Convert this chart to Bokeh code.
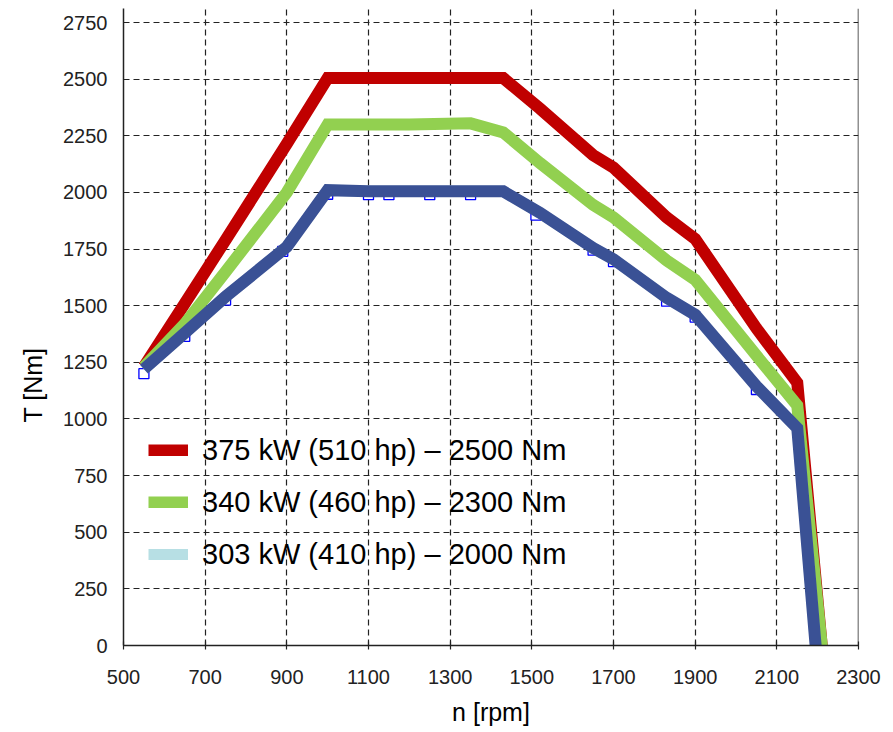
from bokeh.plotting import figure
from bokeh.models import (Range1d, FixedTicker, Span, Legend, LegendItem, Title)
from bokeh.embed import file_html
from bokeh.resources import INLINE

# ---------------- data ----------------
x_ticks = [500, 700, 900, 1100, 1300, 1500, 1700, 1900, 2100, 2300]
y_ticks = [0, 250, 500, 750, 1000, 1250, 1500, 1750, 2000, 2250, 2500, 2750]

rpm_red = [550, 650, 750, 900, 1000, 1100, 1200, 1300, 1430, 1520, 1650, 1700, 1830, 1900, 2050, 2150, 2210]
torque_red = [1230, 1510, 1790, 2215, 2505, 2505, 2505, 2505, 2505, 2370, 2165, 2110, 1890, 1795, 1400, 1160, 0]

rpm_green = [550, 650, 750, 900, 1000, 1100, 1200, 1350, 1430, 1520, 1650, 1700, 1830, 1900, 2050, 2150, 2210]
torque_green = [1230, 1420, 1650, 2000, 2300, 2300, 2300, 2305, 2265, 2130, 1945, 1890, 1700, 1615, 1280, 1060, 0]

rpm_blue = [550, 650, 750, 900, 1000, 1100, 1200, 1300, 1430, 1520, 1650, 1700, 1830, 1900, 2050, 2150, 2195]
torque_blue = [1220, 1380, 1540, 1760, 2010, 2005, 2005, 2005, 2005, 1910, 1755, 1705, 1535, 1460, 1145, 960, 0]

marker_rpm_blue = [550, 650, 750, 890, 1000, 1100, 1150, 1250, 1350, 1510, 1650, 1700, 1830, 1900, 2050, 2200]
marker_torque_blue = [1200, 1365, 1525, 1740, 1992, 1990, 1990, 1990, 1990, 1900, 1745, 1695, 1520, 1450, 1130, 0]

labels = ["375 kW (510 hp) \u2013 2500 Nm",
          "340 kW (460 hp) \u2013 2300 Nm",
          "303 kW (410 hp) \u2013 2000 Nm"]
x_title = "n [rpm]"
y_title = "T [Nm]"

RED = "#c00000"
GREEN = "#92d050"
BLUE = "#3a5195"
LEG_BLUE = "#b7dfe4"
INK = "#222222"
FONT = "Liberation Sans"

# ---------------- figure ----------------
p = figure(width=890, height=732, output_backend="svg", toolbar_location=None,
           x_range=Range1d(500, 2300), y_range=Range1d(0, 2812),
           min_border_left=123, min_border_right=32, min_border_top=8, min_border_bottom=87)
p.outline_line_color = None
p.background_fill_color = "white"

for ax in (p.xaxis[0], p.yaxis[0]):
    ax.axis_line_color = INK
    ax.axis_line_width = 1.5
    ax.major_tick_line_color = INK
    ax.major_tick_line_width = 1.2
    ax.minor_tick_line_color = None
    ax.major_label_text_font = FONT
    ax.major_label_text_font_size = "20px"
    ax.major_label_text_color = INK

p.xaxis.ticker = FixedTicker(ticks=x_ticks)
p.yaxis.ticker = FixedTicker(ticks=y_ticks)
p.xaxis.major_tick_out = 4
p.xaxis.major_tick_in = 4
p.xaxis.major_label_standoff = 20
p.yaxis.major_tick_out = 0
p.yaxis.major_tick_in = 5
p.yaxis.major_label_standoff = 16

p.xaxis.axis_label = x_title
p.xaxis.axis_label_text_font = FONT
p.xaxis.axis_label_text_font_size = "25px"
p.xaxis.axis_label_text_font_style = "normal"
p.xaxis.axis_label_text_color = "black"
p.xaxis.axis_label_standoff = 11

p.add_layout(Title(text=y_title, align="left", vertical_align="top", offset=223,
                   standoff=23, text_font=FONT, text_font_size="25px",
                   text_font_style="normal", text_color="black"), "left")

for g in (p.xgrid[0], p.ygrid[0]):
    g.grid_line_color = INK
    g.grid_line_width = 1.2
    g.grid_line_dash = "6 4"
p.xgrid.ticker = FixedTicker(ticks=x_ticks)
p.ygrid.ticker = FixedTicker(ticks=y_ticks)

p.add_layout(Span(location=2300, dimension="height", line_color=INK, line_width=1.5))

# data-point markers under the lines
p.scatter(marker_rpm_blue, marker_torque_blue, marker="square", size=10,
          line_color="#0000ff", fill_color="white", line_width=1.3)

r_red = p.line(rpm_red, torque_red, line_color=RED, line_width=12, line_join="miter")
r_green = p.line(rpm_green, torque_green, line_color=GREEN, line_width=12, line_join="miter")
# light legend proxy for the 303 kW curve, covered by the dark line drawn on top
r_leg_blue = p.line(rpm_blue, torque_blue, line_color=LEG_BLUE, line_width=11, line_join="miter")
r_blue = p.line(rpm_blue, torque_blue, line_color=BLUE, line_width=12, line_join="miter")

legend = Legend(items=[LegendItem(label=labels[0], renderers=[r_red]),
                       LegendItem(label=labels[1], renderers=[r_green]),
                       LegendItem(label=labels[2], renderers=[r_leg_blue])],
                location=(25, 71), orientation="vertical")
legend.background_fill_alpha = 0
legend.border_line_color = None
legend.padding = 0
legend.margin = 0
legend.spacing = 12
legend.glyph_width = 40
legend.glyph_height = 12
legend.label_height = 40
legend.label_standoff = 14
legend.label_text_font = FONT
legend.label_text_font_size = "29px"
legend.label_text_color = "black"
p.add_layout(legend, "center")

open("out.html", "w").write(file_html(p, INLINE))
